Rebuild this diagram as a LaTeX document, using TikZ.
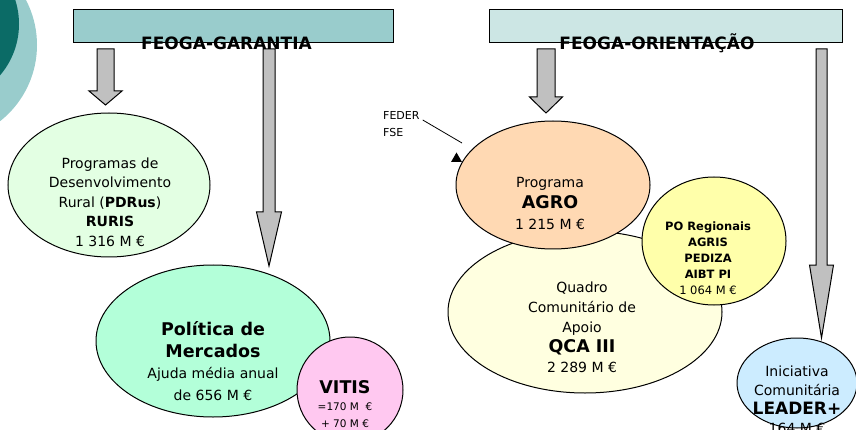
\documentclass[tikz,border=0pt]{standalone}
\usepackage{fontspec}
\setmainfont{DejaVu Sans}
\usetikzlibrary{shapes.geometric,calc}

\definecolor{tealdark}{HTML}{0B6B66}
\definecolor{teallight}{HTML}{99CCCC}
\definecolor{garantcol}{HTML}{99CCCC}
\definecolor{orientcol}{HTML}{CCE6E4}
\definecolor{pdrcol}{HTML}{E3FFE3}
\definecolor{merccol}{HTML}{B3FFD9}
\definecolor{vitiscol}{HTML}{FFC8F0}
\definecolor{agrocol}{HTML}{FFD9B3}
\definecolor{qcacol}{HTML}{FFFFE0}
\definecolor{poregcol}{HTML}{FFFFAA}
\definecolor{leadercol}{HTML}{CCECFF}
\definecolor{arrcol}{HTML}{C0C0C0}

\tikzset{
  fundbox/.style={draw, line width=1pt, inner sep=0pt, minimum height=33},
  fundlab/.style={font=\bfseries\fontsize{17}{20}\selectfont, anchor=base, inner sep=0pt},
  prog/.style={ellipse, draw, line width=1pt, inner sep=0pt},
  progtxt/.style={align=center, inner sep=0pt, font=\fontsize{14}{20}\selectfont},
  fatarr/.style={draw, fill=arrcol, line width=1pt},
}

% top, tip, half shaft, half head, head length
\newcommand{\fatarrow}[5]{%
  \draw[fatarr] let \p1=(#1), \p2=(#2) in
    ({\x1-#3},\y1) -- ({\x1+#3},\y1) -- ({\x1+#3},{\y2+#5}) -- ({\x1+#4},{\y2+#5})
    -- (\x2,\y2) -- ({\x1-#4},{\y2+#5}) -- ({\x1-#3},{\y2+#5}) -- cycle;}
\newcommand{\bigb}[1]{{\bfseries\fontsize{17.5}{20}\selectfont #1}}

\begin{document}
\begin{tikzpicture}[x=1pt,y=-1pt]
        \useasboundingbox (0,0) rectangle (856,430);
        % Corner
        \fill[teallight] (-60,45) circle (97pt);
        \fill[tealdark]  (-60,24) circle (79pt);

        % Funds
        \node[fundbox, fill=garantcol, minimum width=320] (garant) at (233,26.5) {};
        \node[fundbox, fill=orientcol, minimum width=353] (orient) at (665.5,26.5) {};

        % Arrows
        \coordinate (g1)    at (105.5,49);
        \coordinate (g1tip) at (105.5,105);
        \coordinate (g2)    at (269,49);
        \coordinate (g2tip) at (269,266);
        \coordinate (o1)    at (546,49);
        \coordinate (o1tip) at (546,113);
        \coordinate (o2)    at (821.5,49);
        \coordinate (o2tip) at (821.5,338);
        \fatarrow{g1}{g1tip}{8.5pt}{16.5pt}{14pt}
        \fatarrow{g2}{g2tip}{6pt}{12.5pt}{54pt}
        \fatarrow{o1}{o1tip}{9pt}{16.5pt}{16pt}
        \fatarrow{o2}{o2tip}{5.5pt}{12pt}{73pt}

        \node[fundlab] (garantlab) at (226.5,50) {FEOGA-GARANTIA};
        \node[fundlab] (orientlab) at (657,50)   {FEOGA-ORIENTAÇÃO};

        % Garantia
        \node[prog, fill=pdrcol, minimum width=202, minimum height=144] (pdr) at (109,185) {};
        \node[progtxt, font=\fontsize{14}{19.5}\selectfont] (pdrtxt) at (110,202)
          {Programas de\\Desenvolvimento\\Rural (\textbf{PDRus})\\\textbf{RURIS}\\1 316 M €};
        \node[prog, fill=merccol, minimum width=234, minimum height=152] (merc) at (213,341) {};
        \node[progtxt, font=\fontsize{14}{21.5}\selectfont] (merctxt) at (213,361)
          {\bigb{Política de}\\\bigb{Mercados}\\Ajuda média anual\\de 656 M €};
        \node[prog, fill=vitiscol, minimum width=106, minimum height=106] (vitis) at (350,390) {};
        \node[progtxt, font=\fontsize{10.5}{17}\selectfont] (vitistxt) at (345,404)
          {\bigb{VITIS}\\=170 M ~€\\+ 70 M €};

        % Orientacao
        \node[prog, fill=qcacol, minimum width=274, minimum height=162] (qca) at (585,312) {};
        \node[progtxt] (qcatxt) at (582,327)
          {Quadro\\Comunitário de\\Apoio\\\bigb{QCA III}\\2 289 M €};
        \node[prog, fill=agrocol, minimum width=194, minimum height=128] (agro) at (553,185) {};
        \node[progtxt, font=\fontsize{14}{21}\selectfont] (agrotxt) at (550,203)
          {Programa\\\bigb{AGRO}\\1 215 M €};
        \node[prog, fill=poregcol, minimum width=144, minimum height=128] (poreg) at (714,241) {};
        \node[progtxt, font=\fontsize{11.5}{16}\selectfont] (poregtxt) at (708,258.5)
          {\textbf{PO Regionais}\\\textbf{AGRIS}\\\textbf{PEDIZA}\\\textbf{AIBT PI}\\1 064 M €};
        \node[prog, fill=leadercol, minimum width=120, minimum height=90] (leader) at (797,383) {};
        \node[progtxt, font=\fontsize{14}{19}\selectfont] (leadertxt) at (797,400)
          {Iniciativa\\Comunitária\\\textbf{\fontsize{17}{19}\selectfont LEADER+}\\164 M €};

        % FEDER / FSE
        \node[align=left, inner sep=0pt, font=\fontsize{11}{17}\selectfont, anchor=north west] (feder) at (383,111) {FEDER\\FSE};
        \coordinate (fedend) at (462,143);
        \draw[line width=0.8pt] ([xshift=3pt,yshift=-9pt]feder.north east) -- (fedend);
        \fill (451,162) -- (462,162) -- (456.5,152.5) -- cycle;
\end{tikzpicture}
\end{document}
